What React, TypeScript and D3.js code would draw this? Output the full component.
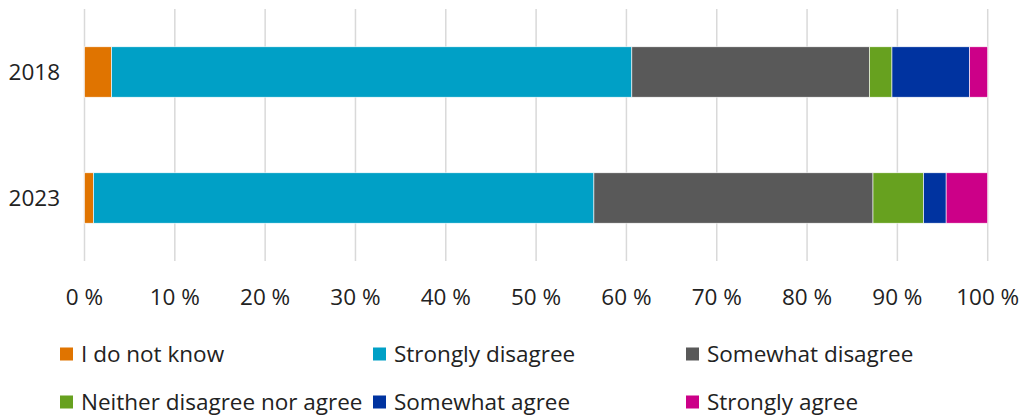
import React from "react";
import * as d3 from "d3";

const years = ["2018", "2023"];
const seriesNames = [
  "I do not know",
  "Strongly disagree",
  "Somewhat disagree",
  "Neither disagree nor agree",
  "Somewhat agree",
  "Strongly agree",
];
const seriesColors = ["#E07400", "#00A0C6", "#595959", "#67A11F", "#0033A0", "#CC0088"];
const values2018 = [3.0, 57.6, 26.3, 2.5, 8.6, 2.0];
const values2023 = [1.0, 55.4, 30.9, 5.6, 2.5, 4.6];
const xTicks = [0, 10, 20, 30, 40, 50, 60, 70, 80, 90, 100];

const W = 1023;
const H = 416;
const FONT = "'Open Sans', 'Noto Sans', sans-serif";

export default function App() {
  const rows = [values2018, values2023];
  const x = d3.scaleLinear().domain([0, 100]).range([84.5, 987.7]);
  const y = d3.scaleBand().domain(years).range([9, 261]).paddingInner(0.6).paddingOuter(0.3);

  const data = years.map((yr, i) => {
    const o: any = { year: yr };
    seriesNames.forEach((s, j) => (o[s] = rows[i][j]));
    return o;
  });
  const stacked = d3.stack<any>().keys(seriesNames)(data);

  const legendCols = [60, 373, 686];
  const legendRows = [354, 402];

  return (
    <svg width={W} height={H} style={{ position: "absolute", left: 0, top: 0, background: "#fff" }}>
      {xTicks.map((t) => (
        <line key={"g" + t} x1={x(t)} x2={x(t)} y1={9} y2={261} stroke="#D9D9D9" strokeWidth={1.5} />
      ))}
      {stacked.map((layer, j) =>
        layer.map((d, i) => (
          <rect
            key={j + "-" + i}
            x={x(d[0])}
            y={y(years[i])!}
            width={x(d[1]) - x(d[0])}
            height={y.bandwidth()}
            fill={seriesColors[j]}
            stroke="#fff"
            strokeWidth={0.6}
          />
        ))
      )}
      {years.map((yr) => (
        <text
          key={yr}
          x={60}
          y={y(yr)! + y.bandwidth() / 2}
          dy="0.35em"
          textAnchor="end"
          fontFamily={FONT}
          fontSize={22.5}
          fill="#222"
        >
          {yr}
        </text>
      ))}
      {xTicks.map((t) => (
        <text
          key={"t" + t}
          x={x(t)}
          y={305}
          textAnchor="middle"
          fontFamily={FONT}
          fontSize={22.5}
          fill="#222"
        >
          {t + " %"}
        </text>
      ))}
      {seriesNames.map((s, j) => {
        const cx = legendCols[j % 3];
        const cy = legendRows[Math.floor(j / 3)];
        return (
          <g key={"l" + s}>
            <rect x={cx} y={cy - 6.5} width={13} height={13} fill={seriesColors[j]} />
            <text x={cx + 21} y={cy} dy="0.35em" fontFamily={FONT} fontSize={22.5} fill="#222">
              {s}
            </text>
          </g>
        );
      })}
    </svg>
  );
}
